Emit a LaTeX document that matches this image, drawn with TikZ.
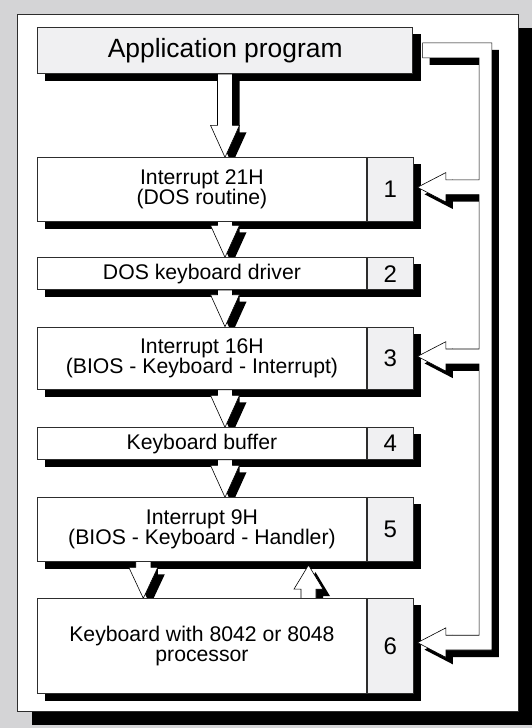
\documentclass[tikz,border=0pt]{standalone}
\usepackage{fontspec}
\setmainfont{Liberation Sans}
\usetikzlibrary{calc}
\pgfdeclarelayer{bg}
\pgfdeclarelayer{shad}
\pgfdeclarelayer{arr}
\pgfsetlayers{bg,shad,arr,main}
\definecolor{bggray}{RGB}{212,212,214}
\definecolor{cellgray}{RGB}{240,240,242}
\definecolor{edge}{RGB}{45,45,45}

% down block arrow: style, x, source, target, head length, dx, dy(down)
\newcommand\dshape[7]{\path[#1] let \p1=(#3.south), \p2=(#4.north) in
 (#2pt-7.5pt+#6,\y1-#7) -- (#2pt-7.5pt+#6,\y2+#5pt-#7) -- (#2pt-14.5pt+#6,\y2+#5pt-#7) --
 (#2pt+#6,\y2-#7) -- (#2pt+14.5pt+#6,\y2+#5pt-#7) -- (#2pt+7.5pt+#6,\y2+#5pt-#7) --
 (#2pt+7.5pt+#6,\y1-#7) -- cycle;}
\newcommand\darrow[4]{%
 \begin{pgfonlayer}{shad}\dshape{fill=black}{#1}{#2}{#3}{#4}{7pt}{7pt}\end{pgfonlayer}%
 \begin{pgfonlayer}{arr}\dshape{arrowbody}{#1}{#2}{#3}{#4}{0pt}{0pt}\end{pgfonlayer}}

% up block arrow: style, x, source (below), target (above), head length, gap, dx, dy(down)
\newcommand\ushape[8]{\path[#1] let \p1=(#3.north), \p2=(#4.south) in
 (#2pt-7.5pt+#7,\y1-#8) -- (#2pt-7.5pt+#7,\y2-#6pt-#5pt-#8) -- (#2pt-14.5pt+#7,\y2-#6pt-#5pt-#8) --
 (#2pt+#7,\y2-#6pt-#8) -- (#2pt+14.5pt+#7,\y2-#6pt-#5pt-#8) -- (#2pt+7.5pt+#7,\y2-#6pt-#5pt-#8) --
 (#2pt+7.5pt+#7,\y1-#8) -- cycle;}
\newcommand\uarrow[5]{%
 \begin{pgfonlayer}{shad}\ushape{fill=black}{#1}{#2}{#3}{#4}{#5}{7pt}{7pt}\end{pgfonlayer}%
 \begin{pgfonlayer}{arr}\ushape{arrowbody}{#1}{#2}{#3}{#4}{#5}{0pt}{0pt}\end{pgfonlayer}}

% feedback channel: style, dx, dy(down)
\newcommand\chshape[3]{\path[#1] let \p9=(app.east), \p1=(c1), \p3=(c3), \p6=(c6) in
 (\x9+9.5pt+#2,\y9+7.5pt-#3) -- (\x9+78.7pt+#2,\y9+7.5pt-#3) --
 (\x9+78.7pt+#2,\y6-7.4pt-#3) -- (\x9+32.7pt+#2,\y6-7.4pt-#3) -- (\x9+32.7pt+#2,\y6-14.7pt-#3) --
 (\x9+4.4pt+#2,\y6-#3) -- (\x9+32.7pt+#2,\y6+14.7pt-#3) -- (\x9+32.7pt+#2,\y6+7.4pt-#3) --
 (\x9+66pt+#2,\y6+7.4pt-#3) --
 (\x9+66pt+#2,\y3-7.4pt-#3) -- (\x9+32.7pt+#2,\y3-7.4pt-#3) -- (\x9+32.7pt+#2,\y3-14.7pt-#3) --
 (\x9+4.4pt+#2,\y3-#3) -- (\x9+32.7pt+#2,\y3+14.7pt-#3) -- (\x9+32.7pt+#2,\y3+7.4pt-#3) --
 (\x9+66pt+#2,\y3+7.4pt-#3) --
 (\x9+66pt+#2,\y1-7.4pt-#3) -- (\x9+32.7pt+#2,\y1-7.4pt-#3) -- (\x9+32.7pt+#2,\y1-14.7pt-#3) --
 (\x9+4.4pt+#2,\y1-#3) -- (\x9+32.7pt+#2,\y1+14.7pt-#3) -- (\x9+32.7pt+#2,\y1+7.4pt-#3) --
 (\x9+66pt+#2,\y1+7.4pt-#3) --
 (\x9+66pt+#2,\y9-7.5pt-#3) -- (\x9+9.5pt+#2,\y9-7.5pt-#3) -- cycle;}

\begin{document}
\begin{tikzpicture}[x=1pt,y=-1pt,
  box/.style={draw=edge,line width=0.8pt,fill=white,inner sep=0pt,anchor=north west,
    align=center,font=\fontsize{21.2}{19}\selectfont},
  body/.style={box,minimum width=328.5pt},
  numbox/.style={box,fill=cellgray,minimum width=46.5pt,font=\fontsize{24}{24}\selectfont},
  arrowbody/.style={draw=black,line width=0.6pt,fill=white,line join=miter}]

\useasboundingbox (0,0) rectangle (532,728);

\begin{pgfonlayer}{bg}
\fill[bggray] (0,0) rectangle (532,728);
\fill[black] (31.6,28.3) rectangle (532,725);
\filldraw[fill=white,draw=edge,line width=0.8pt] (17.6,14.3) rectangle (518,711);
\end{pgfonlayer}

% boxes
\node[box,fill=cellgray,minimum width=375pt,minimum height=46.6pt,
  font=\fontsize{26.4}{30}\selectfont] (app) at (37.3,26.7) {Application program};

\node[body,minimum height=63.4pt] (b1) at (37.3,157.3) {Interrupt 21H\\(DOS routine)};
\node[numbox,minimum height=63.4pt] (n1) at (b1.north east) {1};

\node[body,minimum height=32pt] (b2) at (37.3,257.3) {DOS keyboard driver};
\node[numbox,minimum height=32pt] (n2) at (b2.north east) {2};

\node[body,minimum height=62.3pt] (b3) at (37.3,326.7) {Interrupt 16H\\(BIOS - Keyboard - Interrupt)};
\node[numbox,minimum height=62.3pt] (n3) at (b3.north east) {3};

\node[body,minimum height=31.7pt] (b4) at (37.3,427.3) {Keyboard buffer};
\node[numbox,minimum height=31.7pt] (n4) at (b4.north east) {4};

\node[body,minimum height=63.4pt] (b5) at (37.3,497.3) {Interrupt 9H\\(BIOS - Keyboard - Handler)};
\node[numbox,minimum height=63.4pt] (n5) at (b5.north east) {5};

\node[body,minimum height=94.7pt,font=\fontsize{21.2}{20}\selectfont] (b6) at (37.3,598.3) {Keyboard with 8042 or 8048\\processor};
\node[numbox,minimum height=94.7pt] (n6) at (b6.north east) {6};

% box shadows
\begin{pgfonlayer}{shad}
\foreach \b/\n in {app/app,b1/n1,b2/n2,b3/n3,b4/n4,b5/n5,b6/n6}
  \fill[black] ([shift={(7.5,7)}]\b.north west) rectangle ([shift={(7.5,7)}]\n.south east);
\end{pgfonlayer}

% vertical block arrows
\darrow{225}{app}{b1}{32}
\darrow{225}{b1}{b2}{32}
\darrow{225}{b2}{b3}{32}
\darrow{225}{b3}{b4}{32}
\darrow{225}{b4}{b5}{32}
\darrow{143.3}{b5}{b6}{31}
\uarrow{308.5}{b6}{b5}{24}{3.6}

% feedback channel
\coordinate (c1) at ([yshift=2.1pt]n1.east);
\coordinate (c3) at ([yshift=1.85pt]n3.east);
\coordinate (c6) at ([yshift=3.45pt]n6.east);
\begin{pgfonlayer}{shad}\chshape{fill=black}{7pt}{7pt}\end{pgfonlayer}
\begin{pgfonlayer}{arr}\chshape{arrowbody}{0pt}{0pt}\end{pgfonlayer}

\end{tikzpicture}
\end{document}
